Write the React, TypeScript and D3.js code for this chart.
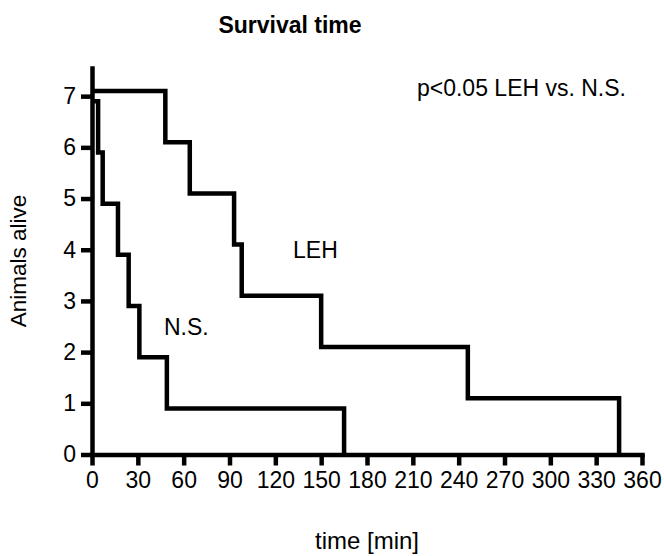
import React, { useRef, useEffect } from 'react';
import * as d3 from 'd3';

// survival steps: [time in min, animals alive] (curves offset by ±0.1 like the original)
const lehTimes = [0, 48, 64, 93, 98, 150, 246, 345];
const lehAlive = [7.1, 6.1, 5.1, 4.1, 3.1, 2.1, 1.1, 0];
const nsTimes = [0, 4, 7, 17, 24, 31, 49, 165];
const nsAlive = [6.9, 5.9, 4.9, 3.9, 2.9, 1.9, 0.9, 0];

const xTicks = [0, 30, 60, 90, 120, 150, 180, 210, 240, 270, 300, 330, 360];
const yTicks = [0, 1, 2, 3, 4, 5, 6, 7];

const FONT = '"Liberation Sans", Arial, Helvetica, sans-serif';

const App = () => {
    const ref = useRef<SVGSVGElement>(null);

    useEffect(() => {
        const svg = d3.select(ref.current);
        svg.selectAll("*").remove();

        const x = d3.scaleLinear().domain([0, 360]).range([92, 642]);
        const y = d3.scaleLinear().domain([0, 7.55]).range([454.5, 68]);

        const line = d3.line<[number, number]>()
            .x(d => x(d[0]))
            .y(d => y(d[1]))
            .curve(d3.curveStepAfter);

        const series = [
            d3.zip(lehTimes, lehAlive) as [number, number][],
            d3.zip(nsTimes, nsAlive) as [number, number][],
        ];

        svg.selectAll("path.curve")
            .data(series)
            .enter().append("path")
            .attr("class", "curve")
            .attr("d", d => line(d))
            .attr("fill", "none")
            .attr("stroke", "#000")
            .attr("stroke-width", 4.5)
            .attr("stroke-linejoin", "miter");

        const yAxis = svg.append("g")
            .attr("transform", `translate(${x(0)},0)`)
            .call(d3.axisLeft(y).tickValues(yTicks).tickSize(11).tickSizeOuter(0).tickPadding(5));

        const xAxis = svg.append("g")
            .attr("transform", `translate(0,${y(0)})`)
            .call(d3.axisBottom(x).tickValues(xTicks).tickSize(11).tickSizeOuter(0).tickPadding(6));

        [xAxis, yAxis].forEach(g => {
            g.select(".domain").attr("stroke-width", 4.5).attr("stroke-linecap", "square");
            g.selectAll(".tick line").attr("stroke-width", 4.5);
            g.selectAll(".tick text")
                .attr("font-family", FONT)
                .attr("font-size", 23)
                .attr("fill", "#000");
        });

        const text = (tx: number, ty: number, s: string, size: number, anchor = "start", weight = "normal") =>
            svg.append("text")
                .attr("x", tx)
                .attr("y", ty)
                .attr("font-family", FONT)
                .attr("font-size", size)
                .attr("font-weight", weight)
                .attr("text-anchor", anchor)
                .text(s);

        text(290, 33, "Survival time", 23, "middle", "bold");
        text(626, 96, "p<0.05 LEH vs. N.S.", 23, "end");
        text(293, 258, "LEH", 23);
        text(164, 335, "N.S.", 23);
        text(367, 549, "time [min]", 24, "middle");

        svg.append("text")
            .attr("transform", `translate(26,261) rotate(-90)`)
            .attr("font-family", FONT)
            .attr("font-size", 22.5)
            .attr("text-anchor", "middle")
            .text("Animals alive");
    }, []);

    return (
        <svg ref={ref} width={664} height={556} style={{ position: 'absolute', left: 0, top: 0, background: '#fff' }}></svg>
    );
};

export default App;
